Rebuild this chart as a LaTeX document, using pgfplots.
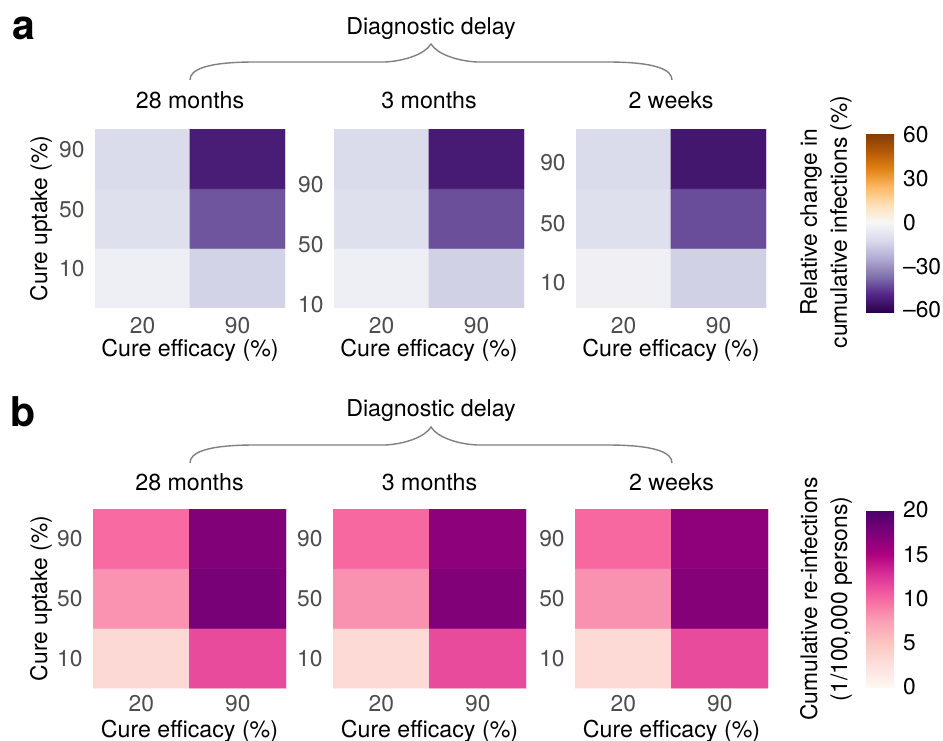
\documentclass[border=0pt]{standalone}
\usepackage{pgfplots}
\pgfplotsset{compat=1.18}
\usepackage{fontspec}
\setmainfont{TeX Gyre Heros}
\usetikzlibrary{calc}

\definecolor{ticktext}{HTML}{4D4D4D}
\definecolor{bracegray}{HTML}{808080}

\pgfplotsset{
  colormap={puor}{
    rgb255=(45,0,75) rgb255=(84,39,136) rgb255=(128,115,172) rgb255=(178,171,210)
    rgb255=(216,218,235) rgb255=(247,247,247) rgb255=(254,224,182) rgb255=(253,184,99)
    rgb255=(224,130,20) rgb255=(179,88,6) rgb255=(127,59,8)},
  colormap={rdpu}{
    rgb255=(255,247,243) rgb255=(253,224,221) rgb255=(252,197,192) rgb255=(250,159,181)
    rgb255=(247,104,161) rgb255=(221,52,151) rgb255=(174,1,126) rgb255=(122,1,119)
    rgb255=(73,0,106)},
  hm/.style={
    scale only axis, anchor=south west,
    height=89.5pt,
    xmin=-0.5, xmax=1.5, ymin=-0.5, ymax=2.5,
    xtick={0,1}, xticklabels={20,90},
    yticklabels={10,50,90},
    axis line style={draw=none}, major tick length=0pt, tick style={draw=none},
    /pgf/number format/assume math mode=true,
    ticklabel style={font=\fontsize{11.4}{13}\selectfont, text=ticktext},
    xticklabel style={inner sep=0pt, anchor=north},
    yticklabel style={inner sep=0pt, anchor=east, xshift=-5pt},
    xlabel={Cure efficacy (\%)},
    xlabel style={at={(axis description cs:0.5,0)}, anchor=base, yshift=-24.5pt,
      inner sep=0pt, font=\fontsize{11.6}{13}\selectfont},
    title style={at={(axis description cs:0.5,1)}, anchor=base,
      inner sep=0pt, font=\fontsize{11.6}{13}\selectfont},
  },
  % the default title style already shifts it up by 6pt
  rowa/.style={hm, width=95pt, colormap name=puor,
    point meta min=-61.4, point meta max=61.4,
    xticklabel style={yshift=-4.5pt}, title style={yshift=4.5pt}},
  rowb/.style={hm, width=96.5pt, colormap name=rdpu,
    point meta min=0, point meta max=20, ytick={0,1,2},
    xticklabel style={yshift=-3.7pt}, title style={yshift=3.5pt}},
  cbar/.style={
    scale only axis, width=14pt,
    axis line style={draw=none}, major tick length=0pt, tick style={draw=none},
    yticklabel style={inner sep=0pt, anchor=west, xshift=4.3pt,
      font=\fontsize{11.4}{13}\selectfont, text=black},
  },
}

\begin{document}
\begin{tikzpicture}
\useasboundingbox (0,0) rectangle (471.5pt,370pt);

% ---------- panel a ----------
\begin{axis}[rowa, at={(47.5pt,216pt)}, title={28 months},
  ytick={0.16,1.15,2.15},
  ylabel={Cure uptake (\%)},
  ylabel style={at={(axis description cs:-0.2526,0.5)}, anchor=base,
    inner sep=0pt, font=\fontsize{11.4}{13}\selectfont}]
\addplot[matrix plot*, mesh/cols=2, point meta=explicit] table[x=x, y=y, meta=c] {
x y c
0 0 -3.5
1 0 -14.1
0 1 -9.7
1 1 -41.6
0 2 -11.5
1 2 -52.7
};
\end{axis}

\begin{axis}[rowa, at={(167pt,216pt)}, title={3 months},
  ytick={-0.44,0.56,1.56}]
\addplot[matrix plot*, mesh/cols=2, point meta=explicit] table[x=x, y=y, meta=c] {
x y c
0 0 -3.5
1 0 -14.5
0 1 -9.7
1 1 -42.7
0 2 -11.5
1 2 -53.2
};
\end{axis}

\begin{axis}[rowa, at={(288pt,216pt)}, title={2 weeks},
  ytick={-0.08,0.92,1.93},
  colorbar,
  colorbar style={cbar, height=89.5pt,
    at={($(parent axis.north east)+(41.5pt,-2pt)$)}, anchor=north west,
    ytick={-60,-30,0,30,60}, yticklabels={–60,–30,0,30,60}}]
\addplot[matrix plot*, mesh/cols=2, point meta=explicit] table[x=x, y=y, meta=c] {
x y c
0 0 -3.3
1 0 -14.5
0 1 -9.7
1 1 -43.0
0 2 -11.5
1 2 -54.2
};
\end{axis}

% ---------- panel b ----------
\begin{axis}[rowb, at={(46.5pt,26pt)}, title={28 months},
  ylabel={Cure uptake (\%)},
  ylabel style={at={(axis description cs:-0.238,0.5)}, anchor=base,
    inner sep=0pt, font=\fontsize{11.4}{13}\selectfont}]
\addplot[matrix plot*, mesh/cols=2, point meta=explicit] table[x=x, y=y, meta=c] {
x y c
0 0 3.15
1 0 11.4
0 1 8.05
1 1 17.6
0 2 9.9
1 2 17.2
};
\end{axis}

\begin{axis}[rowb, at={(166.5pt,26pt)}, title={3 months}]
\addplot[matrix plot*, mesh/cols=2, point meta=explicit] table[x=x, y=y, meta=c] {
x y c
0 0 3.1
1 0 11.4
0 1 8.1
1 1 17.2
0 2 10.0
1 2 16.6
};
\end{axis}

\begin{axis}[rowb, at={(287.5pt,26pt)}, title={2 weeks},
  colorbar,
  colorbar style={cbar, height=88.5pt,
    at={($(parent axis.north east)+(40.5pt,-0.5pt)$)}, anchor=north west,
    ytick={0,5,10,15,20}, yticklabels={0,5,10,15,20}}]
\addplot[matrix plot*, mesh/cols=2, point meta=explicit] table[x=x, y=y, meta=c] {
x y c
0 0 3.1
1 0 11.4
0 1 8.1
1 1 17.0
0 2 10.0
1 2 16.5
};
\end{axis}

% ---------- annotations (pixel-like units, origin top left) ----------
\begin{scope}[x=0.5pt, y=-0.5pt, yshift=370pt]
  \node[anchor=base west, inner sep=0pt, font=\fontsize{20.5}{24}\selectfont\bfseries] at (12,40) {a};
  \node[anchor=base west, inner sep=0pt, font=\fontsize{20.5}{24}\selectfont\bfseries] at (10,427) {b};

  \node[anchor=base, inner sep=0pt, font=\fontsize{11.6}{13}\selectfont] at (431,34.5) {Diagnostic delay};
  \node[anchor=base, inner sep=0pt, font=\fontsize{11.6}{13}\selectfont] at (431,417) {Diagnostic delay};

  \foreach \dy in {0,383} {
    \draw[bracegray, line width=0.7pt, shift={(0,\dy)}]
      (190,80) .. controls (190,70) and (205,62) .. (255,62) -- (385,62)
      .. controls (405,61) and (425,54) .. (431,44)
      .. controls (437,54) and (457,61) .. (477,62) -- (607,62)
      .. controls (657,62) and (672,70) .. (672,80);
  }

  \node[rotate=90, align=center, inner sep=0pt,
    font=\fontsize{11.4}{15}\selectfont] at (826,222)
    {Relative change in\\cumulative infections (\%)};
  \node[rotate=90, align=center, inner sep=0pt,
    font=\fontsize{11.4}{15}\selectfont] at (826,599)
    {Cumulative re-infections\\(1/100,000 persons)};
\end{scope}
\end{tikzpicture}
\end{document}
